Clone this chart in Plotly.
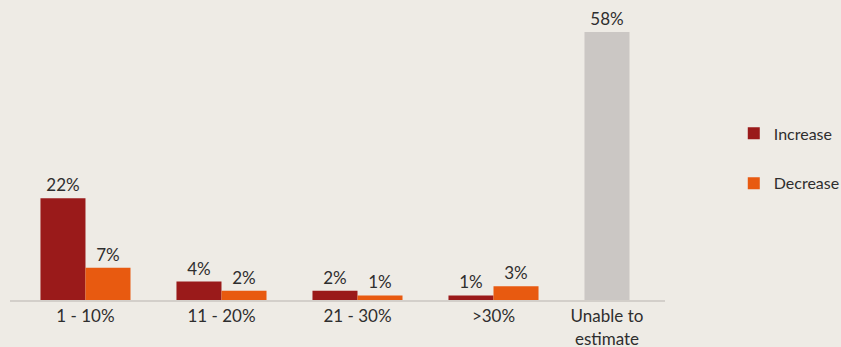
import plotly.graph_objects as go

# Share of respondents by size of expected change
categories = ["1 - 10%", "11 - 20%", "21 - 30%", ">30%", "Unable to<br>estimate"]
range_categories = categories[:4]
increase = [22, 4, 2, 1]
decrease = [7, 2, 1, 3]
unable_category = categories[4:]
unable = [58]

BG = "#EEEBE5"
C_INC = "#9A1A1A"
C_DEC = "#E85A10"
C_UNA = "#CBC7C4"
TXT = "#2E2E2E"
FONT = "Lato"
FS = 17

BAR_W = 0.331  # width of one bar, in category units

fig = go.Figure()

fig.add_trace(go.Bar(
    name="Increase", x=range_categories, y=increase,
    width=BAR_W, offset=-BAR_W, marker=dict(color=C_INC, line=dict(width=0)),
    text=[f"{v}%" for v in increase], textposition="outside",
    textfont=dict(family=FONT, size=FS, color=TXT), cliponaxis=False,
    legendgroup="inc", hoverinfo="skip",
))
fig.add_trace(go.Bar(
    name="Decrease", x=range_categories, y=decrease,
    width=BAR_W, offset=0, marker=dict(color=C_DEC, line=dict(width=0)),
    text=[f"{v}%" for v in decrease], textposition="outside",
    textfont=dict(family=FONT, size=FS, color=TXT), cliponaxis=False,
    legendgroup="dec", hoverinfo="skip",
))
fig.add_trace(go.Bar(
    name="Unable to estimate", x=unable_category, y=unable,
    width=BAR_W, offset=-BAR_W, marker=dict(color=C_UNA, line=dict(width=0)),
    text=[f"{v}%" for v in unable], textposition="outside",
    textfont=dict(family=FONT, size=FS, color=TXT), cliponaxis=False,
    showlegend=False, hoverinfo="skip",
))

# tick positions: grouped categories centred, the single bar's label under that bar
tickvals = list(range(len(range_categories))) + [len(range_categories) - BAR_W / 2]

fig.update_layout(
    width=841, height=347,
    margin=dict(l=10, r=176, t=14, b=47, autoexpand=False),
    paper_bgcolor=BG, plot_bgcolor=BG,
    barmode="overlay",
    font=dict(family=FONT, size=FS, color=TXT),
    showlegend=True,
    legend=dict(
        x=1.105, xanchor="left", y=0.495, yanchor="middle",
        font=dict(family=FONT, size=16, color=TXT),
        tracegroupgap=26, bgcolor="rgba(0,0,0,0)",
    ),
    xaxis=dict(
        type="category", categoryorder="array", categoryarray=categories,
        range=[-0.555, 4.261], automargin=False,
        tickmode="array", tickvals=tickvals, ticktext=categories,
        showline=True, linecolor="#D3CFCA", linewidth=2,
        showgrid=False, zeroline=False, ticks="", ticklabelstandoff=0,
        tickfont=dict(family=FONT, size=FS, color=TXT),
    ),
    yaxis=dict(
        range=[0, 61.9], visible=False, showgrid=False, zeroline=False,
    ),
)

fig.write_html("out.html")
